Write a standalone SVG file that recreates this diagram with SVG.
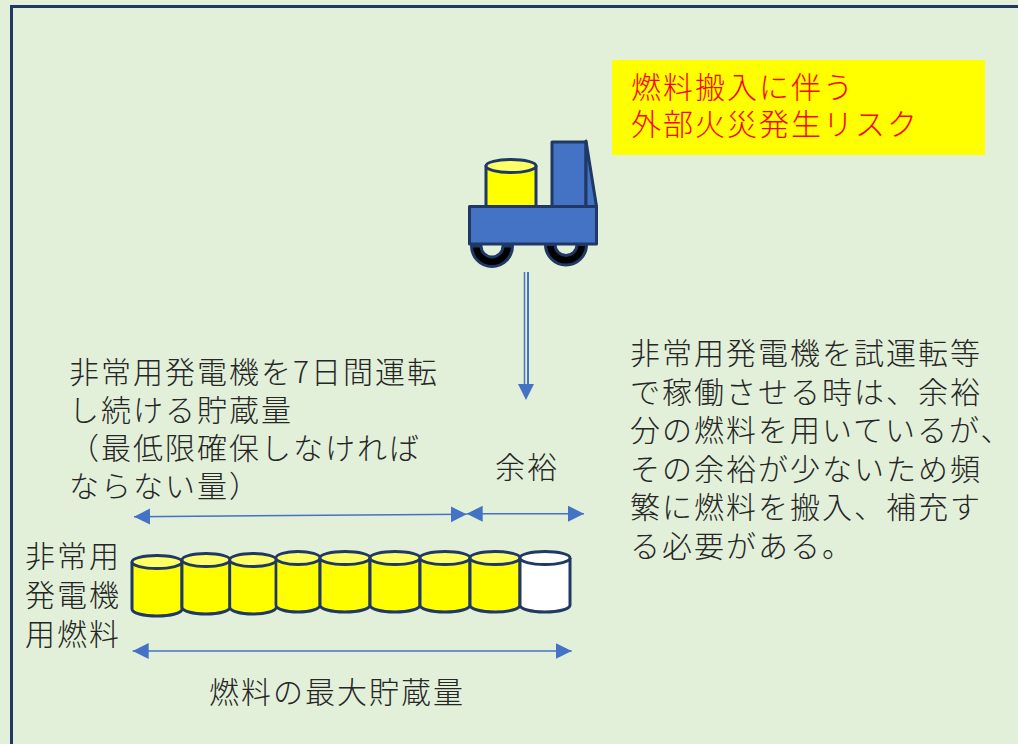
<svg xmlns="http://www.w3.org/2000/svg" width="1018" height="744" viewBox="0 0 1018 744">
<style>
.t{font-family:"Noto Sans CJK JP","Noto Sans",sans-serif;font-weight:300;font-size:30px;letter-spacing:2px;fill:#262626}
.t.r{fill:#ff0000}
.s{stroke:#1f3864;stroke-width:3;stroke-linejoin:round}
.c{stroke:#4472c4;stroke-width:1.5;fill:none}
.d{stroke:#4472c4;fill:none}
.y{fill:#ffff00}.yt{fill:#ffff66}.w{fill:#ffffff}
</style>
<defs>
<marker id="a" markerUnits="userSpaceOnUse" markerWidth="17" markerHeight="17" refX="16" refY="8" orient="auto-start-reverse"><path d="M0 0L16 8L0 16Z" fill="#4472c4"/></marker>
<path id="cb" d="M-25 0V47C-25 51-14 54 0 54S25 51 25 47V0"/>
<ellipse id="ct" cx="0" cy="0" rx="25" ry="6.5"/>
</defs>
<rect width="1018" height="744" fill="#e2f0d9"/>
<path d="M11.500 744V6.500H1018" fill="none" stroke="#1f3864" stroke-width="3"/>
<g id="risk-label"><rect x="612" y="60" width="373" height="95" fill="#ffff00"/><text class="t r" x="631" y="98">燃料搬入に伴う</text><text class="t r" x="631" y="135">外部火災発生リスク</text></g>
<g id="truck">
<path class="s" d="M471.500 246A20.500 20.500 0 0 0 512.500 246H503A11 11 0 0 1 481 246Z" fill="#000"/>
<path class="s" d="M545.500 244.500A20.500 20.500 0 0 0 586.500 244.500H577A11 11 0 0 1 555 244.500Z" fill="#000"/>
<path class="s y" d="M486 166V207H536V166Z"/><ellipse class="s yt" cx="511" cy="166" rx="25" ry="6.500"/>
<rect class="s" x="552" y="142" width="34" height="65" fill="#4472c4"/>
<path class="s" d="M586 141L596.500 206.500H586Z" fill="#4472c4"/>
<rect class="s" x="469.500" y="206.500" width="127" height="37.500" fill="#4472c4"/>
</g>
<g id="drums">
<g id="drum-1" class="s" transform="translate(157 562)"><use href="#cb" class="y"/><use href="#ct" class="yt"/></g>
<g id="drum-2" class="s" transform="translate(206 560) scale(.96 1)"><use href="#cb" class="y"/><use href="#ct" class="yt"/></g>
<g id="drum-3" class="s" transform="translate(253 560) scale(.93 1)"><use href="#cb" class="y"/><use href="#ct" class="yt"/></g>
<g id="drum-4" class="s" transform="translate(298 558) scale(.88 1)"><use href="#cb" class="y"/><use href="#ct" class="yt"/></g>
<g id="drum-5" class="s" transform="translate(345 558)"><use href="#cb" class="y"/><use href="#ct" class="yt"/></g>
<g id="drum-6" class="s" transform="translate(395 558)"><use href="#cb" class="y"/><use href="#ct" class="yt"/></g>
<g id="drum-7" class="s" transform="translate(445 558)"><use href="#cb" class="y"/><use href="#ct" class="yt"/></g>
<g id="drum-8" class="s" transform="translate(495 558)"><use href="#cb" class="y"/><use href="#ct" class="yt"/></g>
<g id="drum-9" class="s" transform="translate(545 558)"><use href="#cb" class="w"/><use href="#ct" class="w"/></g>
</g>
<g id="connectors">
<path class="d" stroke-width="1.500" d="M524.500 272V386"/><path class="d" stroke-width="2" d="M528 272V386"/>
<path d="M518 384H534L526 400Z" fill="#4472c4"/>
<path class="c" d="M134 516.700L466.700 514.300" marker-start="url(#a)" marker-end="url(#a)"/>
<path class="c" d="M466.700 513.700H584" marker-start="url(#a)" marker-end="url(#a)"/>
<path class="c" d="M132.700 651H571.700" marker-start="url(#a)" marker-end="url(#a)"/>
</g>
<g id="labels">
<text class="t" x="69" y="383">非常用発電機を7日間運転</text>
<text class="t" x="69" y="421">し続ける貯蔵量</text>
<text class="t" x="69" y="459">（最低限確保しなければ</text>
<text class="t" x="69" y="497">ならない量）</text>
<text class="t" x="495" y="478">余裕</text>
<text class="t" x="25" y="567">非常用</text>
<text class="t" x="25" y="606">発電機</text>
<text class="t" x="25" y="645">用燃料</text>
<text class="t" x="209" y="703">燃料の最大貯蔵量</text>
<text class="t" x="630" y="364">非常用発電機を試運転等</text>
<text class="t" x="630" y="403">で稼働させる時は、余裕</text>
<text class="t" x="630" y="441">分の燃料を用いているが、</text>
<text class="t" x="630" y="480">その余裕が少ないため頻</text>
<text class="t" x="630" y="518">繁に燃料を搬入、補充す</text>
<text class="t" x="630" y="557">る必要がある。</text>
</g>
</svg>
